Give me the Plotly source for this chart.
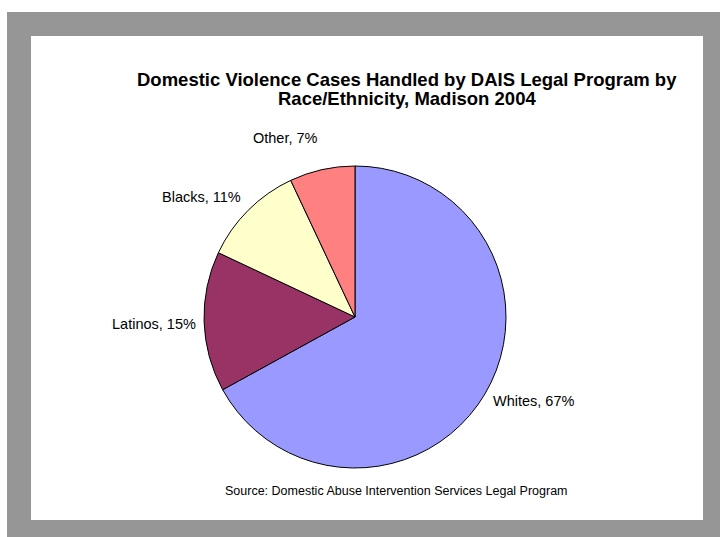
import plotly.graph_objects as go

# Share of cases by race/ethnicity (percent)
groups = ["Whites", "Latinos", "Blacks", "Other"]
shares = [67, 15, 11, 7]
slice_colors = ["#9999FF", "#993366", "#FFFFCC", "#FF8080"]

title_lines = ["Domestic Violence Cases Handled by DAIS Legal Program by",
               "Race/Ethnicity, Madison 2004"]
source_text = "Source: Domestic Abuse Intervention Services Legal Program"

W, H = 720, 537
FONT = "Liberation Sans, Arial, sans-serif"

# Pie placement in pixels (centre and radius)
cx, cy, r = 355, 317, 151

# Label anchor points in pixels: (x, y, xanchor)
label_anchor_px = {
    "Whites": (491, 401, "left"),
    "Latinos": (198, 324, "right"),
    "Blacks": (243, 197, "right"),
    "Other": (320, 138, "right"),
}

fig = go.Figure()

fig.add_trace(go.Pie(
    labels=groups,
    values=shares,
    sort=False,
    direction="clockwise",
    rotation=0,
    marker=dict(colors=slice_colors, line=dict(color="#000000", width=1)),
    textinfo="none",
    showlegend=False,
    hoverinfo="label+value",
    domain=dict(x=[(cx - r) / W, (cx + r) / W], y=[1 - (cy + r) / H, 1 - (cy - r) / H]),
))

# Gray frame and white chart area
fig.add_shape(type="rect", xref="paper", yref="paper", layer="below",
              x0=7 / W, x1=1.0, y0=0.0, y1=1 - 12 / H,
              fillcolor="#969696", line=dict(width=0))
fig.add_shape(type="rect", xref="paper", yref="paper", layer="below",
              x0=31 / W, x1=703 / W, y0=1 - 520 / H, y1=1 - 36 / H,
              fillcolor="#FFFFFF", line=dict(width=0))

# Slice labels
for name, val in zip(groups, shares):
    px, py, xa = label_anchor_px[name]
    fig.add_annotation(
        text=f"{name}, {val}%",
        xref="paper", yref="paper", x=px / W, y=1 - py / H,
        xanchor=xa, yanchor="middle", showarrow=False,
        font=dict(family=FONT, size=14.5, color="#000000"),
    )

# Title, one annotation per line
for i, line in enumerate(title_lines):
    fig.add_annotation(
        text="<b>" + line + "</b>",
        xref="paper", yref="paper", x=407 / W, y=1 - (79 + 20 * i) / H,
        xanchor="center", yanchor="middle", showarrow=False,
        font=dict(family=FONT, size=18.5, color="#000000"),
    )

fig.add_annotation(
    text=source_text,
    xref="paper", yref="paper", x=396 / W, y=1 - 491 / H,
    xanchor="center", yanchor="middle", showarrow=False,
    font=dict(family=FONT, size=12.5, color="#000000"),
)

fig.update_layout(
    width=W, height=H,
    margin=dict(l=0, r=0, t=0, b=0),
    paper_bgcolor="#FFFFFF",
    plot_bgcolor="#FFFFFF",
)

fig.write_html("out.html")
